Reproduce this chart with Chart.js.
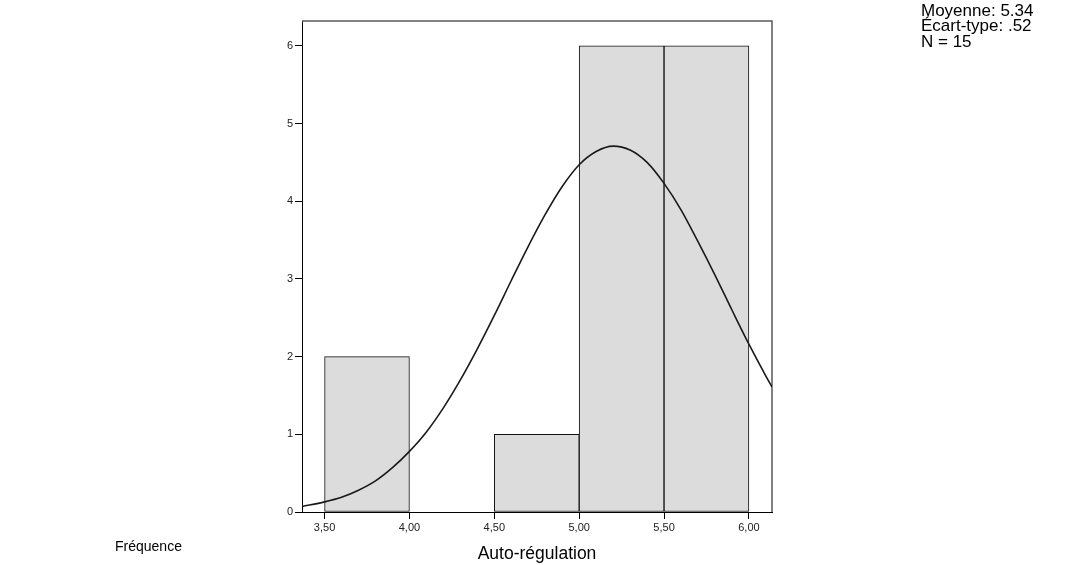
<!DOCTYPE html>
<html><head><meta charset="utf-8">
<script src="https://cdn.jsdelivr.net/npm/chart.js@4"></script>
<style>html,body{margin:0;padding:0;background:#fff;} canvas{display:block}</style>
</head><body>
<canvas id="c" width="1065" height="565"></canvas>
<script>
// ---- data ----
const binLower = [3.5, 4.5, 5.0, 5.5];
const binUpper = [4.0, 5.0, 5.5, 6.0];
const counts = [2, 1, 6, 6];
const curveX = [3.367, 3.5, 3.6, 3.7, 3.8, 3.9, 4.0, 4.1, 4.2, 4.3, 4.4, 4.5, 4.6, 4.7, 4.8, 4.9, 5.0, 5.1, 5.2, 5.3, 5.4, 5.5, 5.6, 5.7, 5.8, 5.9, 6.0, 6.1, 6.136];
const curveY = [0.07, 0.13, 0.19, 0.28, 0.40, 0.57, 0.78, 1.03, 1.34, 1.70, 2.10, 2.53, 2.98, 3.42, 3.83, 4.19, 4.47, 4.64, 4.71, 4.66, 4.50, 4.23, 3.89, 3.48, 3.05, 2.60, 2.16, 1.75, 1.61];
const xTickValues = [3.5, 4.0, 4.5, 5.0, 5.5, 6.0];
const xTickLabels = ['3,50', '4,00', '4,50', '5,00', '5,50', '6,00'];
const yTickValues = [0, 1, 2, 3, 4, 5, 6];
const yTickLabels = ['0', '1', '2', '3', '4', '5', '6'];
const xRange = [3.367, 6.136];
const yRange = [0, 6.32];
const xTitle = 'Auto-régulation';
const yTitle = 'Fréquence';
const statsLines = ['Moyenne: 5.34', 'Écart-type: .52', 'N = 15'];

const FONT = '"Liberation Sans", Arial, sans-serif';

const barData = binLower.map((lo, i) => ({ x: (lo + binUpper[i]) / 2, y: counts[i] }));
const curveData = curveX.map((x, i) => ({ x: x, y: curveY[i] }));

const framePlugin = {
  id: 'frame',
  beforeDatasetsDraw(chart) {
    const { ctx, chartArea: a } = chart;
    ctx.save();
    ctx.strokeStyle = '#5a5a5a';
    ctx.lineWidth = 1.5;
    ctx.beginPath();
    ctx.moveTo(a.left, a.top);
    ctx.lineTo(a.right, a.top);
    ctx.lineTo(a.right, a.bottom);
    ctx.stroke();
    ctx.restore();
  }
};

const textPlugin = {
  id: 'texts',
  afterDraw(chart) {
    const ctx = chart.ctx;
    ctx.save();
    ctx.fillStyle = '#000';
    ctx.textBaseline = 'middle';
    ctx.textAlign = 'left';
    ctx.font = '17px ' + FONT;
    statsLines.forEach((t, i) => ctx.fillText(t, 921, 11 + i * 15.5));
    ctx.font = '14px ' + FONT;
    ctx.fillText(yTitle, 115, 547);
    ctx.restore();
  }
};

new Chart(document.getElementById('c'), {
  data: {
    datasets: [
      {
        type: 'line',
        data: curveData,
        borderColor: '#1a1a1a',
        borderWidth: 1.6,
        pointRadius: 0,
        cubicInterpolationMode: 'monotone',
        fill: false,
        order: 0
      },
      {
        type: 'bar',
        data: barData,
        backgroundColor: '#dcdcdc',
        borderColor: '#111',
        borderWidth: 1,
        borderSkipped: false,
        barPercentage: 1,
        categoryPercentage: 1,
        order: 1
      }
    ]
  },
  options: {
    responsive: false,
    animation: false,
    layout: { padding: { left: 0, right: 293, top: 21, bottom: 0 } },
    plugins: { legend: { display: false }, tooltip: { enabled: false } },
    scales: {
      x: {
        type: 'linear',
        offset: false,
        min: xRange[0],
        max: xRange[1],
        afterBuildTicks(scale) { scale.ticks = xTickValues.map(v => ({ value: v })); },
        afterFit(scale) { scale.height = 53; },
        ticks: {
          autoSkip: false,
          maxRotation: 0,
          padding: 2,
          color: '#222',
          font: { family: FONT, size: 11 },
          callback: (v) => { const i = xTickValues.indexOf(v); return i >= 0 ? xTickLabels[i] : ''; }
        },
        grid: { offset: false, drawOnChartArea: false, drawTicks: true, tickLength: 7, color: '#000', tickWidth: 1 },
        border: { display: true, color: '#000', width: 1 },
        title: { display: true, text: xTitle, color: '#000', font: { family: FONT, size: 17.5 }, padding: { top: 0, bottom: 0 } }
      },
      y: {
        type: 'linear',
        min: yRange[0],
        max: yRange[1],
        afterBuildTicks(scale) { scale.ticks = yTickValues.map(v => ({ value: v })); },
        afterFit(scale) { scale.width = 302; },
        ticks: {
          padding: 2,
          color: '#222',
          font: { family: FONT, size: 11 },
          callback: (v) => { const i = yTickValues.indexOf(v); return i >= 0 ? yTickLabels[i] : ''; }
        },
        grid: { drawOnChartArea: false, drawTicks: true, tickLength: 7, color: '#000', tickWidth: 1 },
        border: { display: true, color: '#000', width: 1 }
      }
    }
  },
  plugins: [framePlugin, textPlugin]
});
</script>
</body></html>
